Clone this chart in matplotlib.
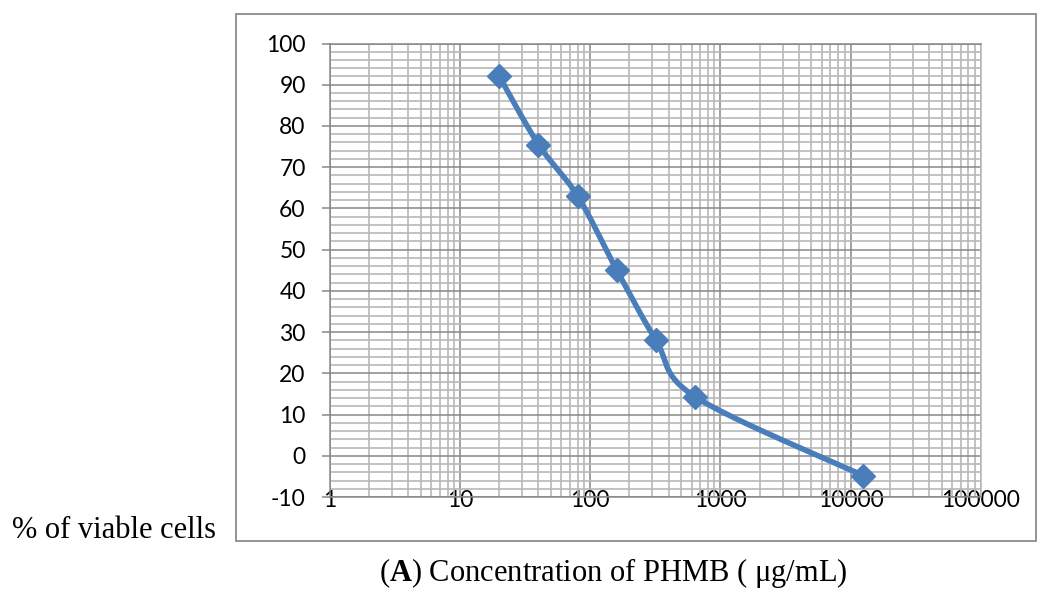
import numpy as np
import matplotlib
matplotlib.use("Agg")
import matplotlib.pyplot as plt
from matplotlib.ticker import LogLocator, MultipleLocator, FixedLocator, FixedFormatter
from matplotlib.patches import Rectangle

plt.rcParams["axes.unicode_minus"] = False
plt.rcParams["mathtext.fontset"] = "custom"
plt.rcParams["mathtext.rm"] = "Liberation Serif"
plt.rcParams["mathtext.bf"] = "Liberation Serif:bold"

# ---- data ----
concentration = [20, 40, 80, 160, 320, 640, 12500]
viable = [92, 75.5, 63, 45, 28, 14.3, -4.8]
x_ticks = [1, 10, 100, 1000, 10000, 100000]
x_tick_labels = ["1", "10", "100", "1000", "10000", "100000"]
y_ticks = [-10, 0, 10, 20, 30, 40, 50, 60, 70, 80, 90, 100]

LINE = "#4A7EBB"
MAJOR = "#878787"
MINOR = "#B8B8B8"

fig = plt.figure(figsize=(10.4, 5.93), dpi=100)
ax = fig.add_axes([330/1040, 1 - 497/593, (980.7-330)/1040, (497-43.5)/593])

# outer chart border
fig.patches.append(Rectangle((236/1040, 1 - 541/593), (1036-236)/1040, (541-14)/593,
                             transform=fig.transFigure, fill=False,
                             edgecolor="#8C8C8C", linewidth=1.3))

ax.set_xscale("log")
ax.set_xlim(1, 100000)
ax.set_ylim(-10, 100)

# smooth (Catmull-Rom / Excel-like) curve in (log10 x, y) space
lx = np.log10(np.array(concentration, dtype=float))
yy = np.array(viable, dtype=float)
P = np.column_stack([lx, yy])
pts = []
n = len(P)
t = np.linspace(0, 1, 40)
for i in range(n - 1):
    p0 = P[i - 1] if i > 0 else P[i]
    p1 = P[i]
    p2 = P[i + 1]
    p3 = P[i + 2] if i + 2 < n else P[i + 1]
    c1 = p1 + (p2 - p0) / 6.0
    c2 = p2 - (p3 - p1) / 6.0
    seg = ((1 - t)[:, None] ** 3 * p1 + 3 * ((1 - t) ** 2 * t)[:, None] * c1
           + 3 * ((1 - t) * t ** 2)[:, None] * c2 + (t ** 3)[:, None] * p2)
    pts.append(seg)
curve = np.vstack(pts)
ax.plot(10 ** curve[:, 0], curve[:, 1], color=LINE, linewidth=4.0,
        solid_capstyle="round", solid_joinstyle="round", zorder=3)
ax.plot(concentration, viable, linestyle="none", marker="D", markersize=12,
        color=LINE, zorder=4)

# grid
ax.xaxis.set_major_locator(FixedLocator(x_ticks))
ax.xaxis.set_major_formatter(FixedFormatter(x_tick_labels))
ax.xaxis.set_minor_locator(LogLocator(base=10, subs=np.arange(2, 10), numticks=20))
ax.xaxis.set_minor_formatter(plt.NullFormatter())
ax.yaxis.set_major_locator(FixedLocator(y_ticks))
ax.yaxis.set_minor_locator(MultipleLocator(2))

ax.grid(which="minor", color=MINOR, linewidth=1.2, zorder=0)
ax.grid(which="major", color=MAJOR, linewidth=1.1, zorder=1)
ax.set_axisbelow(True)

for s in ax.spines.values():
    s.set_color(MAJOR)
    s.set_linewidth(1.1)
ax.spines["right"].set_color(MINOR)

tickfont = "Lato"
ax.tick_params(axis="x", which="major", length=0, pad=-5, labelsize=16.5)
ax.tick_params(axis="x", which="minor", length=0)
ax.tick_params(axis="y", which="major", length=5.5, width=1.1, color=MAJOR,
               pad=12, labelsize=16.5)
ax.tick_params(axis="y", which="minor", length=0)
for lab in ax.get_xticklabels() + ax.get_yticklabels():
    lab.set_fontfamily(tickfont)

# labels
fig.text(12/1040, 1 - 531/593, "% of viable cells", family="Liberation Serif",
         fontsize=22, ha="left", va="center")
fig.text(613/1040, 1 - 573/593, r"($\mathbf{A}$) Concentration of PHMB ( μg/mL)",
         family="Liberation Serif", fontsize=22, ha="center", va="center")

fig.savefig("out.png", dpi=100)
